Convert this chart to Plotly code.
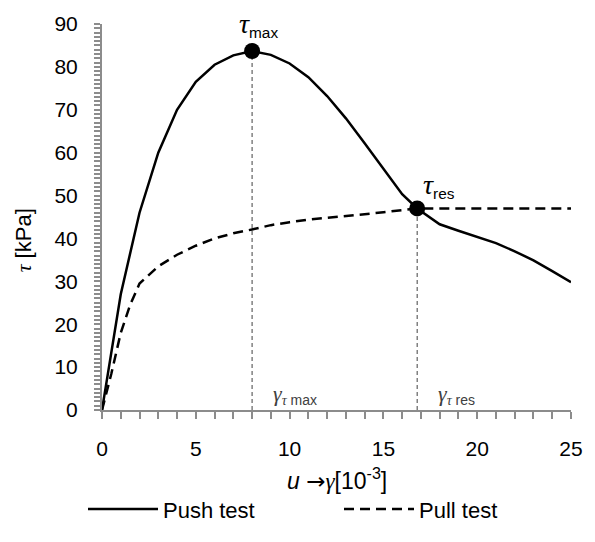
import plotly.graph_objects as go

# Push test (solid)
push_x = [0, 1, 2, 3, 4, 5, 6, 7, 8, 9, 10, 11, 12, 13, 14, 15, 16, 16.8, 18, 19, 20, 21, 22, 23, 24, 25]
push_y = [0, 27, 46, 60, 70, 76.5, 80.5, 82.7, 83.7, 82.8, 80.8, 77.6, 73.2, 68.0, 62.2, 56.3, 50.3, 47.0, 43.3, 41.8, 40.4, 38.9, 37.0, 34.9, 32.4, 29.8]

# Pull test (dashed)
pull_x = [0, 0.5, 1, 1.5, 2, 3, 4, 5, 6, 7, 8, 9, 10, 11, 12, 13, 14, 15, 16, 16.8, 18, 20, 22, 24, 25]
pull_y = [0, 8.5, 18, 24.5, 29.5, 33.5, 36.2, 38.3, 40.0, 41.2, 42.1, 43.1, 43.8, 44.4, 44.8, 45.2, 45.7, 46.1, 46.6, 47.0, 47.0, 47.0, 47.0, 47.0, 47.0]

# Characteristic points (tau_max, tau_res)
peak_x = [8.0, 16.8]
peak_y = [83.7, 47.0]

x_ticks = [0, 5, 10, 15, 20, 25]
y_ticks = [0, 10, 20, 30, 40, 50, 60, 70, 80, 90]

SANS = "Liberation Sans"
SERIF = "Liberation Serif"
AX = "#8c8c8c"

fig = go.Figure()

# vertical guide lines
for px_, py_ in zip(peak_x, peak_y):
    fig.add_trace(go.Scatter(x=[px_, px_], y=[0, py_], mode="lines",
                             line=dict(color="#404040", width=1, dash="4px,3px"),
                             showlegend=False, hoverinfo="skip"))

fig.add_trace(go.Scatter(x=push_x, y=push_y, mode="lines", name="Push test",
                         line=dict(color="black", width=2.5)))
fig.add_trace(go.Scatter(x=pull_x, y=pull_y, mode="lines", name="Pull test",
                         line=dict(color="black", width=2.5, dash="10px,6px")))
fig.add_trace(go.Scatter(x=peak_x, y=peak_y, mode="markers",
                         marker=dict(color="black", size=16),
                         showlegend=False, cliponaxis=False))

def tau_lbl(sub):
    return (f"<span style='font-family:{SERIF};font-size:28px'><i>τ</i></span>"
            f"<sub>{sub}</sub>")

def gam_lbl(sub):
    return (f"<span style='font-family:{SERIF};font-size:22px'><i>γ</i></span>"
            f"<sub><span style='font-family:{SERIF}'><i>τ</i></span> {sub}</sub>")

ann = []
ann.append(dict(x=peak_x[0], y=peak_y[0], xref="x", yref="y", xanchor="left", yanchor="bottom",
                xshift=-15, yshift=8, text=tau_lbl("max"),
                showarrow=False, font=dict(family=SANS, size=22, color="black")))
ann.append(dict(x=peak_x[1], y=peak_y[1], xref="x", yref="y", xanchor="left", yanchor="bottom",
                xshift=4, yshift=4, text=tau_lbl("res"),
                showarrow=False, font=dict(family=SANS, size=22, color="black")))
ann.append(dict(x=peak_x[0], y=0, xref="x", yref="y", xanchor="left", yanchor="bottom",
                xshift=19, yshift=0, text=gam_lbl("max"),
                showarrow=False, font=dict(family=SANS, size=20, color="#404040")))
ann.append(dict(x=peak_x[1], y=0, xref="x", yref="y", xanchor="left", yanchor="bottom",
                xshift=19, yshift=0, text=gam_lbl("res"),
                showarrow=False, font=dict(family=SANS, size=20, color="#404040")))

# axis titles
ann.append(dict(x=0.5, y=-0.178, xref="paper", yref="paper", xanchor="center", yanchor="middle",
                text=(f"<i>u</i> <span style='font-family:DejaVu Sans'>→</span>"
                      f"<span style='font-family:{SERIF}'><i>γ</i></span>[10<sup>-3</sup>]"),
                showarrow=False, font=dict(family=SANS, size=23, color="black")))
ann.append(dict(x=-0.168, y=0.44, xref="paper", yref="paper", xanchor="center", yanchor="middle",
                textangle=-90,
                text=f"<span style='font-family:{SERIF}'><i>τ</i></span> [kPa]",
                showarrow=False, font=dict(family=SANS, size=22, color="black")))

fig.update_layout(
    width=595, height=542,
    margin=dict(l=102, r=13, t=16, b=117),
    plot_bgcolor="white", paper_bgcolor="white",
    font=dict(family=SANS, size=21, color="black"),
    annotations=ann,
    showlegend=True,
    legend=dict(orientation="h", x=-0.022, xanchor="left", y=-0.257, yanchor="middle",
                font=dict(size=22, color="black"), itemwidth=70, entrywidth=171,
                traceorder="normal", borderwidth=0),
    xaxis=dict(range=[0, 25], tickvals=x_ticks, ticks="outside", ticklen=7, tickwidth=2,
               tickcolor=AX, showline=True, linecolor=AX, linewidth=2, showgrid=False,
               zeroline=False, tickfont=dict(size=21, color="black"), ticklabelstandoff=12,
               minor=dict(dtick=1, ticks="outside", ticklen=7, tickwidth=2, tickcolor=AX, showgrid=False)),
    yaxis=dict(range=[0, 90], tickvals=y_ticks, ticks="outside", ticklen=6, tickwidth=2,
               tickcolor=AX, showline=True, linecolor=AX, linewidth=2, showgrid=False,
               zeroline=False, tickfont=dict(size=21, color="black"), ticklabelstandoff=12,
               minor=dict(dtick=1, ticks="outside", ticklen=6, tickwidth=2, tickcolor=AX, showgrid=False)),
)

fig.write_html("out.html", config={"displayModeBar": False},
               post_script="document.body.style.margin='0';")
